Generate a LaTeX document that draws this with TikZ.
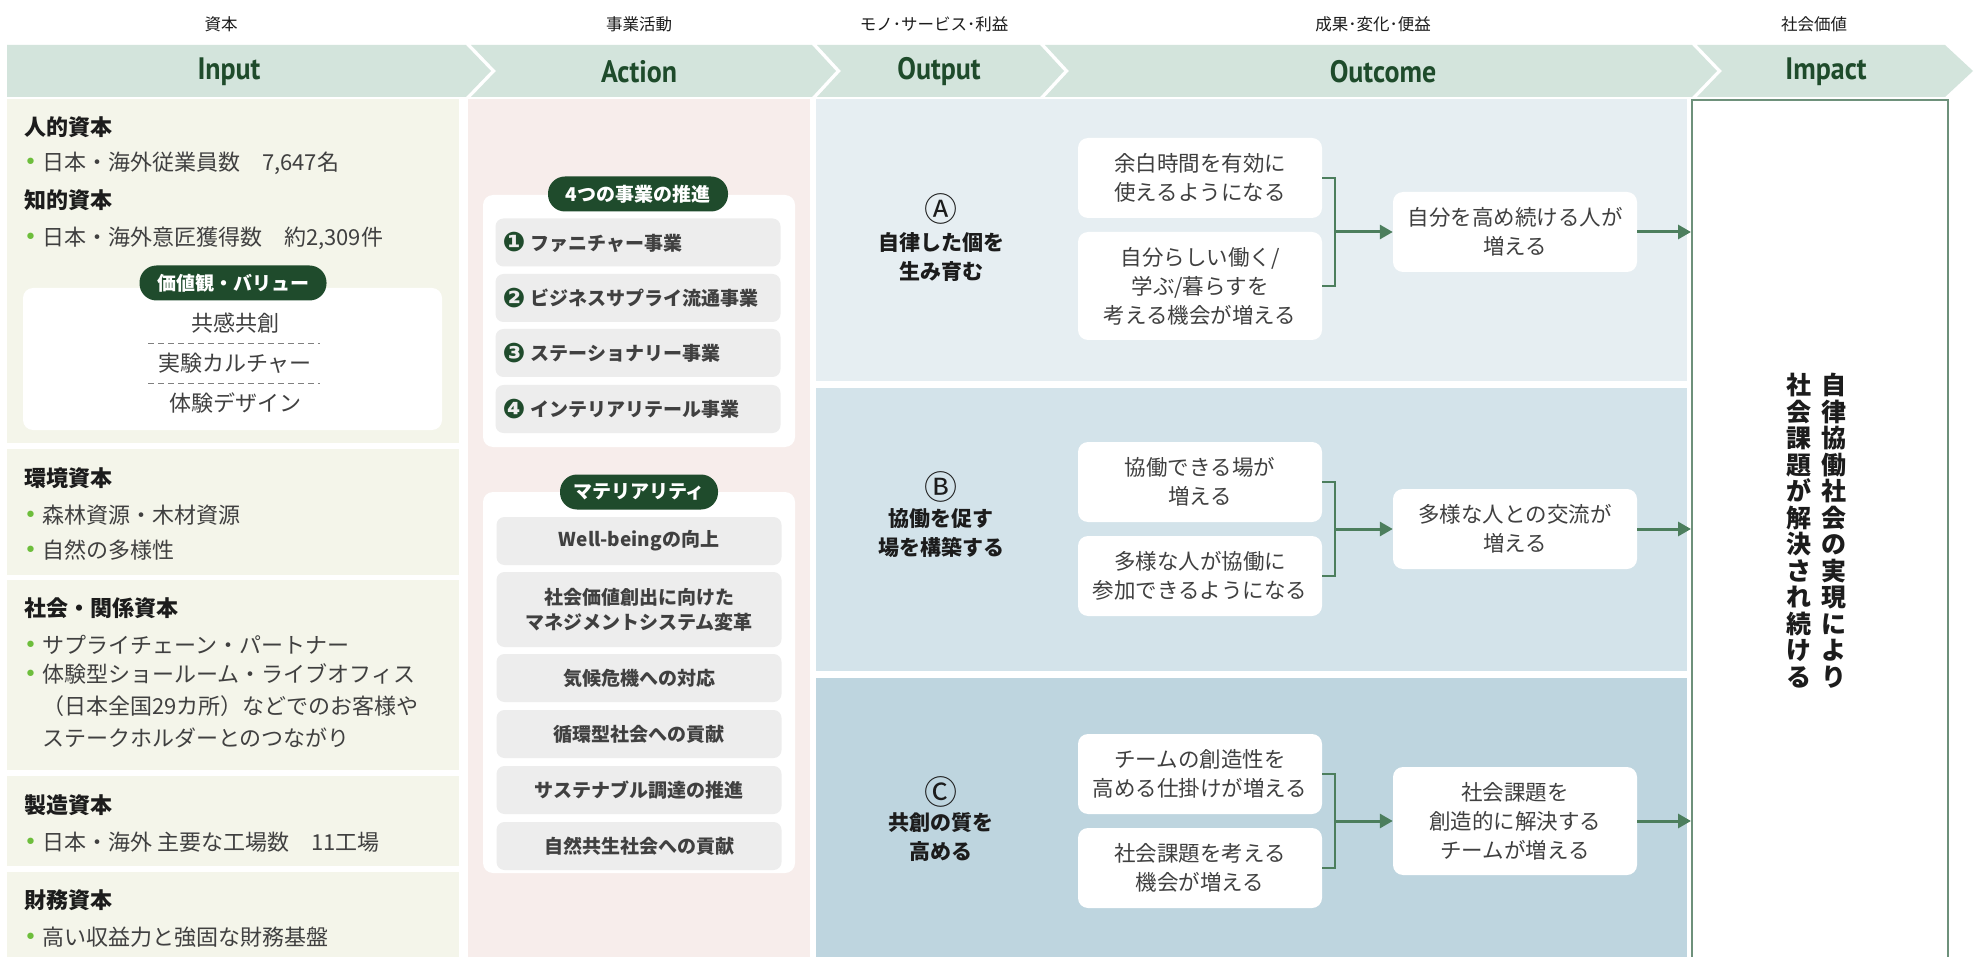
\documentclass[tikz,border=0pt]{standalone}
\usepackage{fontspec}
\usetikzlibrary{arrows.meta,calc}
\setmainfont{Noto Sans CJK JP}
\newfontfamily\dejavu{DejaVu Sans}
\newfontfamily\ttlfont[FakeStretch=0.9]{PT Sans}
\newfontfamily\labfont{Noto Sans CJK JP}
\newcommand\myfs[2]{\fontsize{#1}{#2}\selectfont}
\definecolor{bannerc}{HTML}{D3E4DC}
\definecolor{ttlc}{HTML}{1E4B2B}
\definecolor{inbg}{HTML}{F4F5EA}
\definecolor{actbg}{HTML}{F7EDEB}
\definecolor{bandA}{HTML}{E6EEF2}
\definecolor{bandB}{HTML}{D3E3EA}
\definecolor{bandC}{HTML}{BED5DF}
\definecolor{itemc}{HTML}{EDEDED}
\definecolor{pillc}{HTML}{1F4B2C}
\definecolor{bgreen}{HTML}{6DBE3C}
\definecolor{agreen}{HTML}{4C7E5D}
\definecolor{impc}{HTML}{6E917B}
\definecolor{txt}{HTML}{404040}
\definecolor{dtxt}{HTML}{1C1C1C}
\newcommand\bu{\makebox[18pt][l]{\textcolor{bgreen}{{\dejavu\raisebox{1pt}{•}}}}}
\newcommand\cnum[1]{\makebox[28pt][l]{\raisebox{-1.5pt}{\dejavu\fontsize{27}{27}\selectfont\textcolor{pillc}{#1}}}}
\tikzset{
  toplab/.style={font=\labfont\myfs{16.5}{19}, text=dtxt, inner sep=0},
  ttl/.style={font=\ttlfont\bfseries\myfs{31}{31}, text=ttlc, inner sep=0},
  head/.style={anchor=west, font=\bfseries\myfs{22}{26}, text=dtxt, inner sep=0},
  bul/.style={anchor=west, font=\myfs{22}{32}, text=txt, inner sep=0, align=left},
  val/.style={font=\myfs{22}{26}, text=txt, inner sep=0},
  pill/.style={fill=pillc, text=white, font=\bfseries\myfs{19}{20}, rounded corners=17pt, inner sep=0, minimum height=35},
  itemL/.style={fill=itemc, rounded corners=8pt, text width=271, inner xsep=7, inner ysep=0, minimum height=48, font=\bfseries\myfs{19}{25}, text=txt, align=left},
  itemC/.style={fill=itemc, rounded corners=8pt, text width=261, inner xsep=12, inner ysep=0, minimum height=48, font=\bfseries\myfs{19}{25}, text=txt, align=center},
  obox/.style={fill=white, rounded corners=10pt, minimum width=244, minimum height=80, inner sep=0, align=center, font=\myfs{21.5}{29}, text=txt},
  outl/.style={font=\bfseries\myfs{21}{29}, text=dtxt, align=center, inner sep=0},
  circl/.style={font=\myfs{33}{33}, text=dtxt, inner sep=0},
  vtext/.style={font=\bfseries\myfs{25}{26.5}, text=dtxt, align=center, inner sep=0, anchor=north},
  arr/.style={draw=agreen, line width=3pt, -{Triangle[length=13pt,width=14pt]}},
  brk/.style={draw=agreen, line width=2pt},
  dline/.style={draw=gray, line width=1pt, dash pattern=on 6pt off 4pt}
}
\begin{document}
\begin{tikzpicture}[x=1pt,y=-1pt]
\useasboundingbox (0,0) rectangle (1984,957);
\fill[white] (0,0) rectangle (1984,957);
% banner
\fill[bannerc] (7,45) -- (466,45) -- (491,71) -- (466,97) -- (7,97) -- cycle;
\fill[bannerc] (471,45) -- (812,45) -- (836,71) -- (812,97) -- (471,97) -- (496,71) -- cycle;
\fill[bannerc] (817,45) -- (1040,45) -- (1064,71) -- (1040,97) -- (817,97) -- (841,71) -- cycle;
\fill[bannerc] (1045,45) -- (1692,45) -- (1717,71) -- (1692,97) -- (1045,97) -- (1069,71) -- cycle;
\fill[bannerc] (1697,45) -- (1945,45) -- (1973,71) -- (1945,97) -- (1697,97) -- (1722,71) -- cycle;
\node[ttl] (tIn) at (229,72) {Input};
\node[ttl] (tAc) at (639,72) {Action};
\node[ttl] (tOu) at (939,72) {Output};
\node[ttl] (tOc) at (1383,72) {Outcome};
\node[ttl] (tIm) at (1826,72) {Impact};
% top labels
\node[toplab] (lIn) at (221,24) {資本};
\node[toplab] (lAc) at (639,24) {事業活動};
\node[toplab] (lOu) at (934,24) {モノ･サービス･利益};
\node[toplab] (lOc) at (1373,24) {成果･変化･便益};
\node[toplab] (lIm) at (1814,24) {社会価値};
% column backgrounds
\fill[inbg] (7,99) rectangle (459,443);
\fill[inbg] (7,449) rectangle (459,575);
\fill[inbg] (7,580) rectangle (459,770);
\fill[inbg] (7,776) rectangle (459,866);
\fill[inbg] (7,872) rectangle (459,960);
\fill[actbg] (468,99) rectangle (810,960);
\fill[bandA] (816,99) rectangle (1687,381);
\fill[bandB] (816,388) rectangle (1687,671);
\fill[bandC] (816,678) rectangle (1687,960);
\node[draw=impc, line width=1.8pt, fill=white, minimum width=256, minimum height=880, inner sep=0, anchor=north west] (imp) at (1691,99) {};
% Input texts
\node[head] (h1) at (24,127) {人的資本};
\node[bul] (b1) at (24,163) {\bu 日本・海外従業員数　7,647名};
\node[head] (h2) at (24,200) {知的資本};
\node[bul] (b2) at (24,238) {\bu 日本・海外意匠獲得数　約2,309件};
\fill[white, rounded corners=10pt] (23,288) rectangle (442,430);
\node[pill, minimum width=187] (p0) at (233,283) {価値観・バリュー};
\node[val] (v1) at (235,323) {共感共創};
\draw[dline] (148,344) -- (320,344);
\node[val] (v2) at (235,363) {実験カルチャー};
\draw[dline] (148,384) -- (320,384);
\node[val] (v3) at (235,403) {体験デザイン};
\node[head] (h3) at (24,478) {環境資本};
\node[bul] (b3) at (24,515) {\bu 森林資源・木材資源};
\node[bul] (b4) at (24,550) {\bu 自然の多様性};
\node[head] (h4) at (24,608) {社会・関係資本};
\node[bul] (b5) at (24,645) {\bu サプライチェーン・パートナー};
\node[bul, anchor=north west] (b6) at (24,663) {\bu 体験型ショールーム・ライブオフィス\\\hspace*{18pt}（日本全国29カ所）などでのお客様や\\\hspace*{18pt}ステークホルダーとのつながり};
\node[head] (h5) at (24,805) {製造資本};
\node[bul] (b7) at (24,842) {\bu 日本・海外 主要な工場数　11工場};
\node[head] (h6) at (24,900) {財務資本};
\node[bul] (b8) at (24,937) {\bu 高い収益力と強固な財務基盤};
% Action
\fill[white, rounded corners=10pt] (483,195) rectangle (795,447);
\node[pill, minimum width=180] (p1) at (638,194) {4つの事業の推進};
\node[itemL] (a1) at (638,242.5) {\cnum{❶}ファニチャー事業};
\node[itemL] (a2) at (638,298) {\cnum{❷}ビジネスサプライ流通事業};
\node[itemL] (a3) at (638,353) {\cnum{❸}ステーショナリー事業};
\node[itemL] (a4) at (638,409) {\cnum{❹}インテリアリテール事業};
\fill[white, rounded corners=10pt] (483,492) rectangle (795,873);
\node[pill, minimum width=158] (p2) at (639,492) {マテリアリティ};
\node[itemC] (m1) at (639,541) {Well-beingの向上};
\node[itemC, minimum height=75] (m2) at (639,609.5) {社会価値創出に向けた\\マネジメントシステム変革};
\node[itemC] (m3) at (639,678) {気候危機への対応};
\node[itemC] (m4) at (639,734) {循環型社会への貢献};
\node[itemC] (m5) at (639,790) {サステナブル調達の推進};
\node[itemC] (m6) at (639,846) {自然共生社会への貢献};
% Output
\node[circl] (cA) at (941,209) {Ⓐ};
\node[outl] (oA) at (941,257.5) {自律した個を\\生み育む};
\node[circl] (cB) at (941,487) {Ⓑ};
\node[outl] (oB) at (941,533) {協働を促す\\場を構築する};
\node[circl] (cC) at (941,792) {Ⓒ};
\node[outl] (oC) at (941,837.5) {共創の質を\\高める};
% Outcome A
\node[obox] (A1) at (1200,178) {余白時間を有効に\\使えるようになる};
\node[obox, minimum height=108] (A2) at (1200,286) {自分らしい働く/\\学ぶ/暮らすを\\考える機会が増える};
\node[obox] (A3) at (1515,232) {自分を高め続ける人が\\増える};
% Outcome B
\node[obox] (B1) at (1200,482) {協働できる場が\\増える};
\node[obox] (B2) at (1200,576) {多様な人が協働に\\参加できるようになる};
\node[obox] (B3) at (1515,529) {多様な人との交流が\\増える};
% Outcome C
\node[obox] (C1) at (1200,774) {チームの創造性を\\高める仕掛けが増える};
\node[obox] (C2) at (1200,868) {社会課題を考える\\機会が増える};
\node[obox, minimum height=108] (C3) at (1515,821) {社会課題を\\創造的に解決する\\チームが増える};
% connectors
\draw[brk] (A1.east) -- ++(13,0) coordinate (kA1) |- (A2.east);
\draw[brk] (B1.east) -- ++(13,0) coordinate (kB1) |- (B2.east);
\draw[brk] (C1.east) -- ++(13,0) coordinate (kC1) |- (C2.east);
\draw[arr] (kA1 |- A3.west) -- (A3.west);
\draw[arr] (kB1 |- B3.west) -- (B3.west);
\draw[arr] (kC1 |- C3.west) -- (C3.west);
\draw[arr] (A3.east) -- (A3.east -| imp.west);
\draw[arr] (B3.east) -- (B3.east -| imp.west);
\draw[arr] (C3.east) -- (C3.east -| imp.west);
% Impact text
\node[vtext] (i1) at (1834,373) {自\\律\\協\\働\\社\\会\\の\\実\\現\\に\\よ\\り};
\node[vtext] (i2) at (1799,373) {社\\会\\課\\題\\が\\解\\決\\さ\\れ\\続\\け\\る};
\end{tikzpicture}
\end{document}
